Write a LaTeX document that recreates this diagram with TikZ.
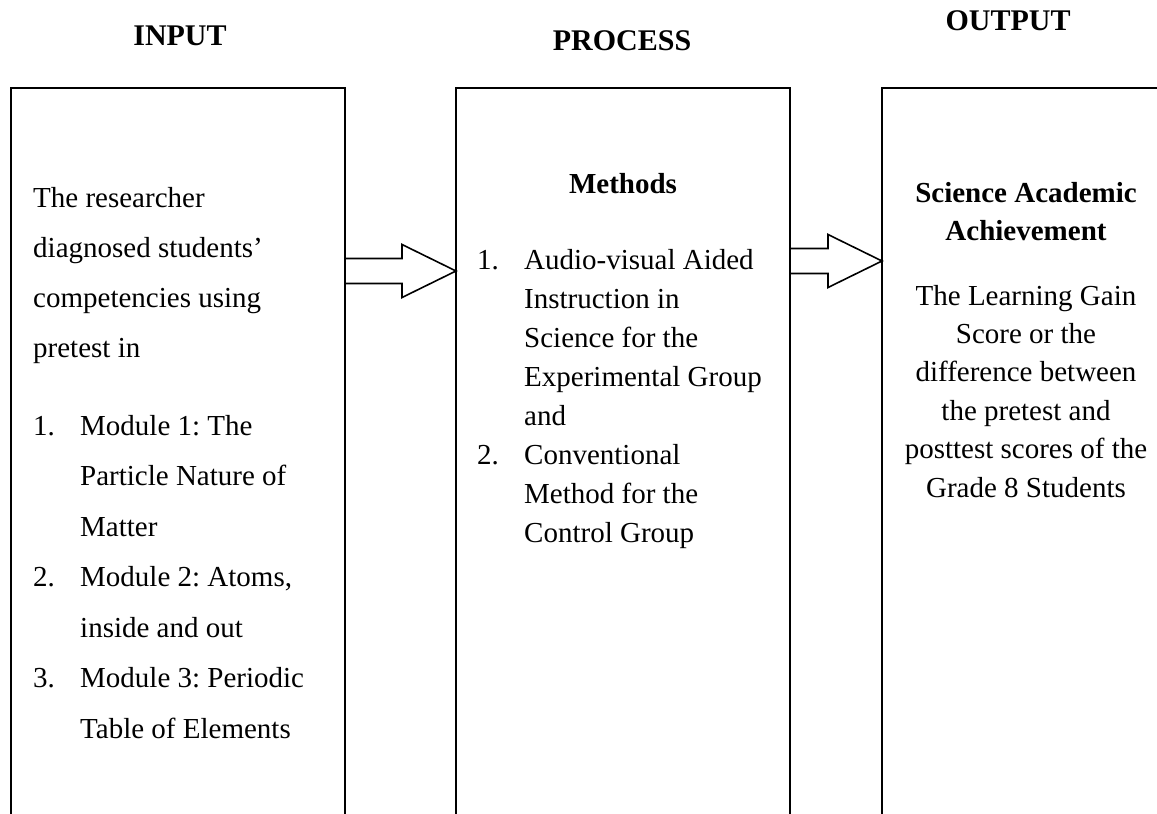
\documentclass[tikz,border=0pt]{standalone}
\usepackage{fontspec}
\setmainfont{Liberation Serif}
\usetikzlibrary{calc}
\frenchspacing

\newcommand\listno[1]{\makebox[47pt][l]{#1}}
\newcommand\listind{\hspace*{47pt}}

\begin{document}
\begin{tikzpicture}[x=1pt,y=-1pt,
    title/.style={font=\fontsize{30}{36}\selectfont\bfseries,anchor=base,inner sep=0pt},
    frame/.style={draw=black,line width=1.6pt,outer sep=0pt,anchor=north west,minimum height=800pt},
    arrowline/.style={draw=black,line width=1.6pt,fill=white,line join=miter}]
    \useasboundingbox (0,0) rectangle (1157,814);
    \clip (0,0) rectangle (1157,814);

    % headings
    \node[title] (inhead) at (180,45) {INPUT};
    \node[title] (prochead) at (622,50) {PROCESS};
    \node[title] (outhead) at (1008,30) {OUTPUT};

    % the three frames, open at the bottom
    \node[frame,minimum width=334pt] (inbox) at (11,88) {};
    \node[frame,minimum width=334pt] (procbox) at (456,88) {};
    \node[frame,minimum width=320pt] (outbox) at (882,88) {};

    % multi-line texts sit on the baseline of their last line
    \begin{scope}[every node/.style={inner sep=0pt,align=left,anchor=base west}]
      \node[font=\fontsize{29}{50}\selectfont] (intext) at (33,357)
        {The researcher\\diagnosed students’\\competencies using\\pretest in};
      \node[font=\fontsize{29}{50.5}\selectfont] (inlist) at (33,738)
        {\listno{1.}Module 1: The\\\listind Particle Nature of\\\listind Matter\\
         \listno{2.}Module 2: Atoms,\\\listind inside and out\\
         \listno{3.}Module 3: Periodic\\\listind Table of Elements};
      \node[font=\fontsize{29}{38.9}\selectfont] (proclist) at (477,542)
        {\listno{1.}Audio-visual Aided\\\listind Instruction in\\\listind Science for the\\
         \listind Experimental Group\\\listind and\\
         \listno{2.}Conventional\\\listind Method for the\\\listind Control Group};
    \end{scope}

    \begin{scope}[every node/.style={inner sep=0pt,align=center,anchor=base}]
      \node[font=\fontsize{29}{35}\selectfont\bfseries] (procname) at (623,193) {Methods};
      \node[font=\fontsize{29}{38}\selectfont\bfseries] (outname) at (1026,240)
        {Science Academic\\Achievement};
      \node[font=\fontsize{29}{38.4}\selectfont] (outtext) at (1026,497)
        {The Learning Gain\\Score or the\\difference between\\the pretest and\\
         posttest scores of the\\Grade 8 Students};
    \end{scope}

    % hollow block arrows between the frames
    \coordinate (a1s) at ($(inbox.north east)+(0,183)$);
    \coordinate (a1t) at ($(procbox.north west)+(0,183)$);
    \coordinate (a2s) at ($(procbox.north east)+(0,173)$);
    \coordinate (a2t) at ($(outbox.north west)+(0,173)$);
    \foreach \s/\t in {a1s/a1t,a2s/a2t}
      \draw[arrowline] ($(\s)+(0,-12.5)$) -- ($(\t)+(-54,-12.5)$) -- ($(\t)+(-54,-26.5)$)
        -- (\t) -- ($(\t)+(-54,26.5)$) -- ($(\t)+(-54,12.5)$) -- ($(\s)+(0,12.5)$) -- cycle;
  \end{tikzpicture}
\end{document}
